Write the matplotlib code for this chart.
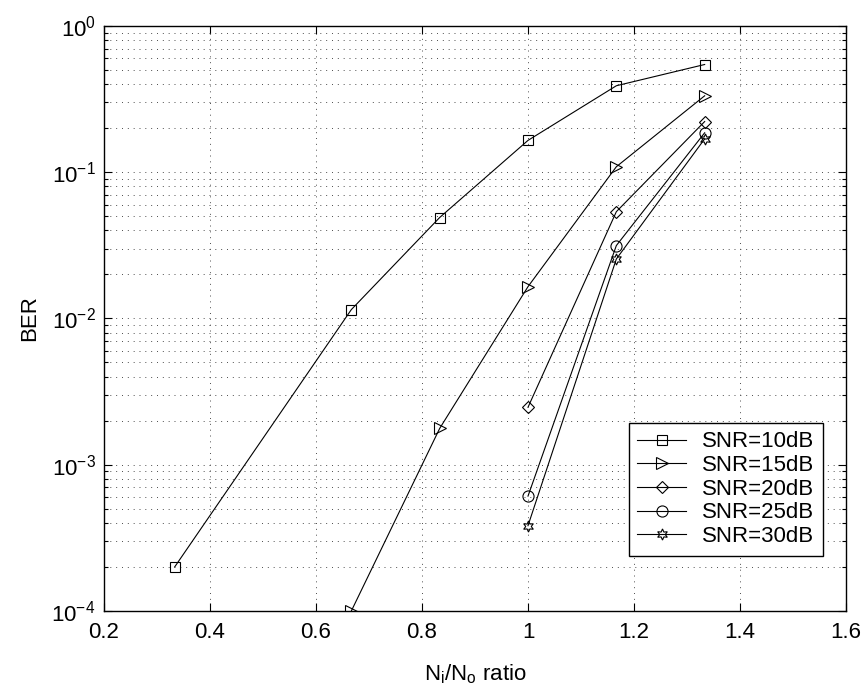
import matplotlib
matplotlib.use("Agg")
import matplotlib.pyplot as plt
from matplotlib.ticker import LogLocator, NullFormatter

plt.rcParams['font.family'] = ['Liberation Sans', 'DejaVu Sans']
plt.rcParams['mathtext.default'] = 'regular'

# Data
x10 = [1/3, 2/3, 5/6, 1.0, 7/6, 4/3]
ber10 = [2.0e-4, 1.15e-2, 4.9e-2, 1.65e-1, 3.9e-1, 5.45e-1]
x15 = [2/3, 5/6, 1.0, 7/6, 4/3]
ber15 = [1.0e-4, 1.77e-3, 1.65e-2, 1.09e-1, 3.33e-1]
x20 = [1.0, 7/6, 4/3]
ber20 = [2.47e-3, 5.37e-2, 2.22e-1]
x25 = [1.0, 7/6, 4/3]
ber25 = [6.1e-4, 3.15e-2, 1.86e-1]
x30 = [1.0, 7/6, 4/3]
ber30 = [3.83e-4, 2.55e-2, 1.69e-1]
labels = ['SNR=10dB', 'SNR=15dB', 'SNR=20dB', 'SNR=25dB', 'SNR=30dB']
xticks = [0.2, 0.4, 0.6, 0.8, 1.0, 1.2, 1.4, 1.6]
xticklabels = ['0.2', '0.4', '0.6', '0.8', '1', '1.2', '1.4', '1.6']
markers = ['s', '>', 'D', 'o', (6, 1, 0)]
msizes = [6.5, 8.5, 6.0, 8.0, 8.0]

fig = plt.figure(figsize=(8.66, 6.92), dpi=100)
ax = fig.add_axes([0.1201, 0.1171, 0.8568, 0.8454])

series = [(x10, ber10), (x15, ber15), (x20, ber20), (x25, ber25), (x30, ber30)]
for (xs, ys), lab, mk, ms in zip(series, labels, markers, msizes):
    ax.plot(xs, ys, color='black', lw=0.8, marker=mk, markersize=ms,
            markerfacecolor='none', markeredgecolor='black', markeredgewidth=0.8,
            label=lab, zorder=3)

ax.set_yscale('log')
ax.set_xlim(0.2, 1.6)
ax.set_ylim(1e-4, 1e0)
ax.set_xticks(xticks)
ax.set_xticklabels(xticklabels)
ax.yaxis.set_major_locator(LogLocator(base=10, numticks=10))
ax.yaxis.set_minor_locator(LogLocator(base=10, subs=range(2, 10), numticks=20))
ax.yaxis.set_minor_formatter(NullFormatter())

gs = dict(color='0.3', linestyle=(0, (1, 5)), linewidth=0.7)
ax.grid(True, which='major', axis='both', **gs)
ax.grid(True, which='minor', axis='y', **gs)

ax.tick_params(which='both', direction='in', top=True, right=True, labelsize=16,
               width=0.8, color='black')
ax.tick_params(which='major', length=6)
ax.tick_params(which='minor', length=3)
ax.tick_params(axis='x', pad=8)
ax.tick_params(axis='y', pad=6)
for s in ax.spines.values():
    s.set_linewidth(1.0)

ax.set_xlabel(r'N$_i$/N$_o$ ratio', fontsize=16, labelpad=14)
ax.set_ylabel('BER', fontsize=16, labelpad=8)

leg = ax.legend(loc='lower right', bbox_to_anchor=(0.969, 0.094), borderaxespad=0,
                fontsize=16, frameon=True, fancybox=False, edgecolor='black',
                handlelength=2.2, handletextpad=0.7, borderpad=0.4, labelspacing=0.12)
leg.get_frame().set_linewidth(1.0)
leg.get_frame().set_alpha(1)

fig.savefig('out.png', dpi=100)
